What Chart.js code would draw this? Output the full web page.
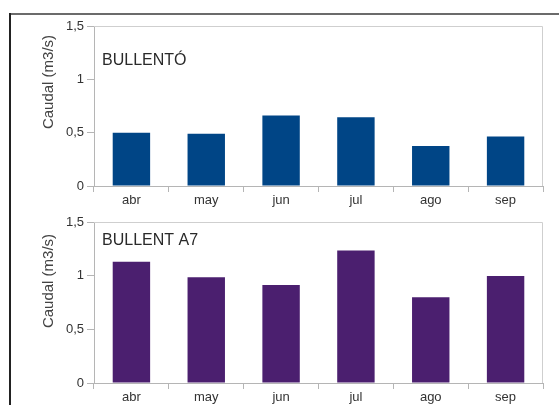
<!DOCTYPE html>
<html>
<head>
<meta charset="utf-8">
<script src="https://cdn.jsdelivr.net/npm/chart.js@4/dist/chart.umd.min.js"></script>
<style>
  body { margin: 0; background: #fff; }
  #wrap { position: relative; width: 559px; height: 405px; overflow: hidden; background: #fff; }
  #frameTop { position: absolute; left: 10px; top: 13px; width: 549px; height: 2px; background: #6b6b6b; }
  #frameLeft { position: absolute; left: 9px; top: 13px; width: 2px; height: 392px; background: #222; }
  canvas { position: absolute; left: 0; }
</style>
</head>
<body>
<div id="wrap">
  <div id="frameTop"></div>
  <div id="frameLeft"></div>
  <canvas id="chartTop" style="top:0px"></canvas>
  <canvas id="chartBottom" style="top:196px"></canvas>
</div>
<script>
var months = ["abr", "may", "jun", "jul", "ago", "sep"]
var bullento = [0.50, 0.49, 0.66, 0.645, 0.375, 0.465]
var bullentA7 = [1.13, 0.985, 0.913, 1.234, 0.80, 0.997]
var yTicks = [0, 0.5, 1, 1.5]

var FONT = "'Liberation Sans', Arial, sans-serif"

// frame of plot area + inner title + rotated y title
var decor = {
  id: "decor",
  afterDraw: function(chart){
    var ctx = chart.ctx
    var a = chart.chartArea
    var o = chart.options.plugins.decor
    ctx.save()
    ctx.strokeStyle = "#cfcfcf"
    ctx.lineWidth = 1
    ctx.beginPath()
    ctx.moveTo(a.left, a.top + 0.5)
    ctx.lineTo(a.right - 0.5, a.top + 0.5)
    ctx.lineTo(a.right - 0.5, a.bottom)
    ctx.stroke()

    ctx.fillStyle = "#2a2a2a"
    ctx.font = "16px " + FONT
    ctx.textAlign = "left"
    ctx.textBaseline = "alphabetic"
    ctx.fillText(o.title, 102, o.titleY)

    ctx.fillStyle = "#444"
    ctx.font = "15px " + FONT
    ctx.translate(49, o.yTitleY)
    ctx.rotate(-Math.PI / 2)
    ctx.textAlign = "center"
    ctx.textBaseline = "middle"
    ctx.fillText("Caudal (m3/s)", 0, 0)
    ctx.restore()
  }
}

function makeChart(id, h, values, color, title, titleY, yTitleY, xH){
  var cv = document.getElementById(id)
  cv.width = 559
  cv.height = h
  cv.style.width = "559px"
  cv.style.height = h + "px"
  return new Chart(cv, {
    type: "bar",
    data: {
      labels: months,
      datasets: [{
        data: values,
        backgroundColor: color,
        borderWidth: 0,
        barPercentage: 0.5,
        categoryPercentage: 1.0
      }]
    },
    options: {
      responsive: false,
      animation: false,
      devicePixelRatio: 1,
      layout: { padding: { left: 30, top: 26, right: 16, bottom: 0 } },
      plugins: {
        legend: { display: false },
        tooltip: { enabled: false },
        decor: { title: title, titleY: titleY, yTitleY: yTitleY }
      },
      scales: {
        x: {
          afterFit: function(s){ s.height = xH },
          grid: { offset: true, drawOnChartArea: false, tickLength: 6, color: "#b5b5b5" },
          border: { color: "#b5b5b5" },
          ticks: { color: "#333", font: { family: FONT, size: 13 }, padding: 1 }
        },
        y: {
          min: 0,
          max: 1.5,
          afterFit: function(s){ s.width = 64 },
          afterBuildTicks: function(s){ s.ticks = yTicks.map(function(v){ return { value: v } }) },
          grid: { drawOnChartArea: false, tickLength: 7, color: "#b5b5b5" },
          border: { color: "#b5b5b5" },
          ticks: {
            color: "#333",
            font: { family: FONT, size: 13 },
            padding: 3,
            callback: function(v){ return String(v).replace(".", ",") }
          }
        }
      }
    },
    plugins: [decor]
  })
}

makeChart("chartTop", 210, bullento, "#004586", "BULLENTÓ", 65, 82, 24)
makeChart("chartBottom", 209, bullentA7, "#4b1f6f", "BULLENT A7", 49, 85, 22)
</script>
</body>
</html>
